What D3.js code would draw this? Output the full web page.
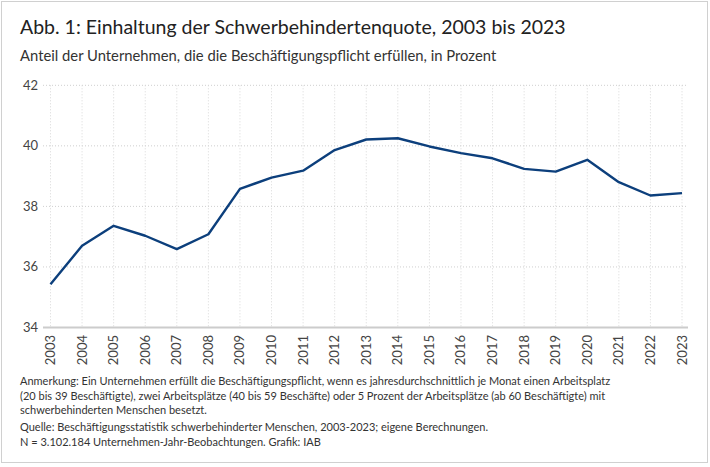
<!DOCTYPE html>
<html>
<head>
<meta charset="utf-8">
<script src="https://cdn.jsdelivr.net/npm/d3@7"></script>
<style>
  body { margin: 0; background: #fff; }
  text { font-family: "Source Sans Pro", Lato, sans-serif; }
</style>
</head>
<body>
<script>
// Daten: Anteil der Unternehmen, die die Beschäftigungspflicht erfüllen (in %)
const years = [2003, 2004, 2005, 2006, 2007, 2008, 2009, 2010, 2011, 2012, 2013,
               2014, 2015, 2016, 2017, 2018, 2019, 2020, 2021, 2022, 2023];
const shares = [35.43, 36.70, 37.36, 37.03, 36.59, 37.08, 38.58, 38.95, 39.18, 39.86, 40.21,
                40.25, 39.98, 39.76, 39.59, 39.24, 39.15, 39.54, 38.80, 38.36, 38.44];
const yTicks = [34, 36, 38, 40, 42];
const notes = [
    "Anmerkung: Ein Unternehmen erfüllt die Beschäftigungspflicht, wenn es jahresdurchschnittlich je Monat einen Arbeitsplatz",
    "(20 bis 39 Beschäftigte), zwei Arbeitsplätze (40 bis 59 Beschäfte) oder 5 Prozent der Arbeitsplätze (ab 60 Beschäftigte) mit",
    "schwerbehinderten Menschen besetzt."
];
const source = [
    "Quelle: Beschäftigungsstatistik schwerbehinderter Menschen, 2003-2023; eigene Berechnungen.",
    "N = 3.102.184 Unternehmen-Jahr-Beobachtungen. Grafik: IAB"
];

function main() {
    let width = 710;
    let height = 467;

    let svg = d3.select("body").append("svg")
        .attr("width", width)
        .attr("height", height);

    // Rahmen
    svg.append("rect")
        .attr("x", 1.5).attr("y", 1.5)
        .attr("width", 706).attr("height", 461)
        .attr("fill", "none")
        .attr("stroke", "#d0d0d0");

    svg.append("text")
        .attr("x", 20).attr("y", 34)
        .attr("font-size", "19.5px")
        .attr("fill", "#222")
        .text("Abb. 1: Einhaltung der Schwerbehindertenquote, 2003 bis 2023");

    svg.append("text")
        .attr("x", 20).attr("y", 61)
        .attr("font-size", "14.8px")
        .attr("fill", "#333")
        .text("Anteil der Unternehmen, die die Beschäftigungspflicht erfüllen, in Prozent");

    let x = d3.scaleLinear().domain([2003, 2023]).range([50.5, 682]);
    let y = d3.scaleLinear().domain([34, 42]).range([327.5, 85.3]);

    let gridLeft = 43, gridRight = 688;

    // horizontale Gitterlinien
    svg.append("g").selectAll("line")
        .data(yTicks.filter(d => d !== 34))
        .enter().append("line")
        .attr("x1", gridLeft).attr("x2", gridRight)
        .attr("y1", d => y(d)).attr("y2", d => y(d))
        .attr("stroke", "#cfcfcf")
        .attr("stroke-width", 1)
        .attr("stroke-dasharray", "1,2");

    // vertikale Gitterlinien
    svg.append("g").selectAll("line")
        .data(years)
        .enter().append("line")
        .attr("x1", d => x(d)).attr("x2", d => x(d))
        .attr("y1", y(42)).attr("y2", y(34))
        .attr("stroke", "#d8d8d8")
        .attr("stroke-width", 1)
        .attr("stroke-dasharray", "1,2");

    // Grundlinie
    svg.append("line")
        .attr("x1", gridLeft).attr("x2", gridRight)
        .attr("y1", y(34)).attr("y2", y(34))
        .attr("stroke", "#cccccc")
        .attr("stroke-width", 2);

    // y-Beschriftung
    svg.append("g").selectAll("text")
        .data(yTicks)
        .enter().append("text")
        .attr("x", 38)
        .attr("y", d => y(d) + 4.5)
        .attr("text-anchor", "end")
        .attr("font-size", "13px")
        .attr("fill", "#444")
        .text(d => d);

    // x-Beschriftung (gedreht)
    svg.append("g").selectAll("text")
        .data(years)
        .enter().append("text")
        .attr("transform", d => "translate(" + (x(d) + 4.5) + "," + 335 + ") rotate(-90)")
        .attr("text-anchor", "end")
        .attr("font-size", "13px")
        .attr("fill", "#444")
        .text(d => d);

    // Linie
    let line = d3.line()
        .x((d, i) => x(years[i]))
        .y(d => y(d));

    svg.append("path")
        .datum(shares)
        .attr("d", line)
        .attr("fill", "none")
        .attr("stroke", "#0c3f7c")
        .attr("stroke-width", 2.4)
        .attr("stroke-linejoin", "round");

    // Anmerkungen
    svg.append("g").selectAll("text")
        .data(notes)
        .enter().append("text")
        .attr("x", 20)
        .attr("y", (d, i) => 385 + i * 14.5)
        .attr("font-size", "11px")
        .attr("fill", "#333")
        .text(d => d);

    svg.append("g").selectAll("text")
        .data(source)
        .enter().append("text")
        .attr("x", 20)
        .attr("y", (d, i) => 431 + i * 15)
        .attr("font-size", "11px")
        .attr("fill", "#333")
        .text(d => d);
}

main();
</script>
</body>
</html>
